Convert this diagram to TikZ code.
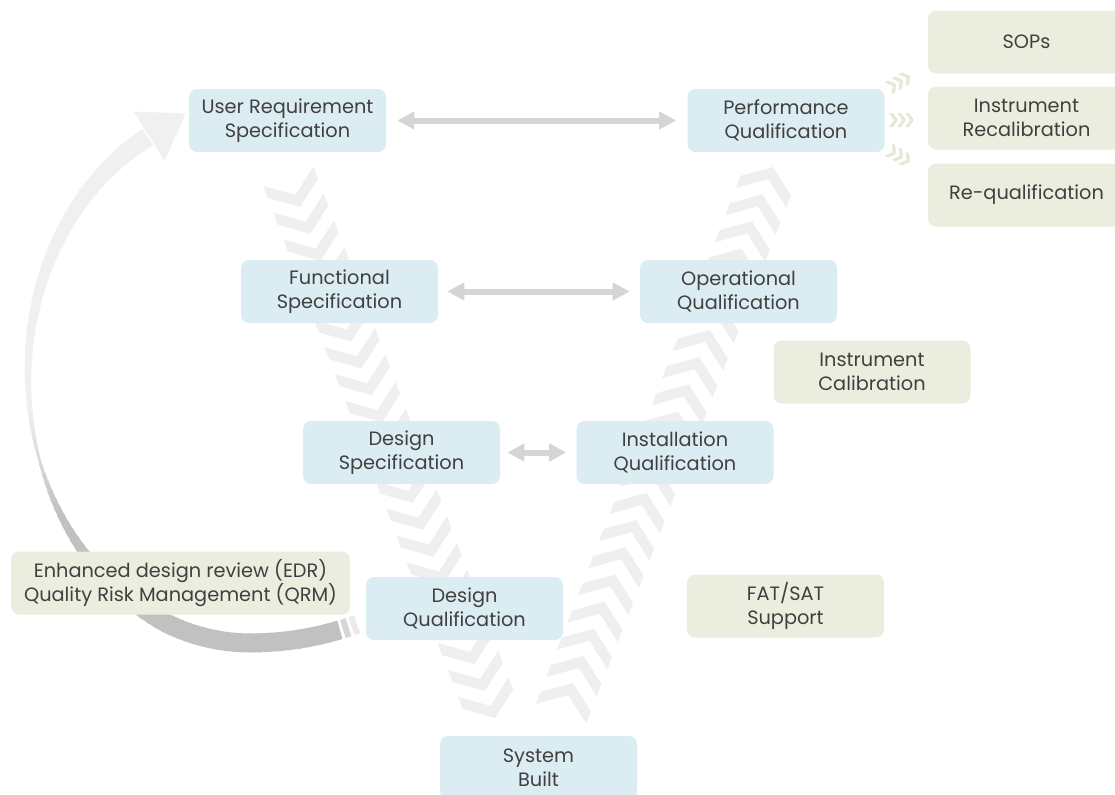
\documentclass[tikz,border=0pt]{standalone}
\usepackage{fontspec}
\setmainfont{Poppins}
\usetikzlibrary{arrows.meta}
\definecolor{bluebox}{RGB}{219,236,242}
\definecolor{greenbox}{RGB}{235,238,223}
\definecolor{txt}{RGB}{64,64,64}
\definecolor{chevcol}{RGB}{239,239,239}
\definecolor{gchev}{RGB}{229,233,214}
\definecolor{arrowcol}{RGB}{213,213,213}
\begin{document}
\begin{tikzpicture}[x=0.75pt,y=-0.75pt,
 box/.style={rounded corners=6pt, minimum width=147.75pt, minimum height=47.25pt, align=center, text=txt, font=\fontsize{14.5}{18}\selectfont, inner sep=0pt},
 bbox/.style={box, fill=bluebox},
 gbox/.style={box, fill=greenbox},
 dbl/.style={arrowcol, line width=4.5pt, {Triangle[length=12.75pt,width=12.75pt]}-{Triangle[length=12.75pt,width=12.75pt]}},
 chevdown/.pic={\fill[chevcol] (-27,-20) -- (0,0) -- (27,-20) -- (27,-33) -- (0,-13) -- (-27,-33) -- cycle;},
 chevup/.pic={\fill[chevcol] (-27,20) -- (0,0) -- (27,20) -- (27,33) -- (0,13) -- (-27,33) -- cycle;},
 schev/.pic={\foreach \dx in {-8,0,8}{\fill[gchev] (\dx-5,-7) -- (\dx,0) -- (\dx-5,7) -- (\dx-9,7) -- (\dx-4,0) -- (\dx-9,-7) -- cycle;}}
]
\useasboundingbox (0,0) rectangle (1115,794);
\clip (0,0) rectangle (1115,794);
% chevron columns
\foreach \i in {0,...,19} \pic[rotate=20.9] at ({300+195*\i/19},{207+511*\i/19}) {chevdown};
\foreach \i in {0,...,19} \pic[rotate=-21.2] at ({573+200*\i/19},{683-516*\i/19}) {chevup};
% curved feedback arrow (flatter on the tail side)
\foreach \t in {72,74,...,240} {
  \pgfmathsetmacro{\w}{\t<110 ? 19 : (\t<160 ? 19-(\t-110)*0.33 : 2.5+(\t-160)*0.21)}
  \pgfmathsetmacro{\k}{\t<148 ? 24.5 : (\t<172 ? 24.5-(\t-148)*0.77 : 6)}
  \pgfmathsetmacro{\aa}{\t<90 ? 291 : 222}
  \pgfmathsetmacro{\ab}{\t+2.6<90 ? 291 : 222}
  \draw[line width=\w*0.75pt, black!\k] ({250+\aa*cos(\t)},{375+268*sin(\t)}) -- ({250+\ab*cos(\t+2.6)},{375+268*sin(\t+2.6)});
}
\draw[line width=14.25pt, black!16] ({250+291*cos(70.2)},{375+268*sin(70.2)}) -- ({250+291*cos(71.4)},{375+268*sin(71.4)});
\draw[line width=14.25pt, black!8] ({250+291*cos(68.4)},{375+268*sin(68.4)}) -- ({250+291*cos(69.6)},{375+268*sin(69.6)});
\fill[black!6] (133.9,111.5) -- (185.8,113.5) -- (164.5,161) -- cycle;
% boxes
\node[bbox] (urs) at (287.5,120.5) {User Requirement\\Specification};
\node[bbox] (pq) at (786,120.5) {Performance\\Qualification};
\node[bbox] (fs) at (339.5,291.5) {Functional\\Specification};
\node[bbox] (oq) at (738.5,291.5) {Operational\\Qualification};
\node[bbox] (ds) at (401.5,452.5) {Design\\Specification};
\node[bbox] (iq) at (675,452.5) {Installation\\Qualification};
\node[bbox] (dq) at (464.5,608.5) {Design\\Qualification};
\node[bbox] (sb) at (538.5,767.5) {System\\Built};
\node[gbox] (sops) at (1026.5,42) {SOPs};
\node[gbox] (recal) at (1026.5,118) {Instrument\\Recalibration};
\node[gbox] (requal) at (1026.5,195) {Re-qualification};
\node[gbox] (ical) at (872,372) {Instrument\\Calibration};
\node[gbox] (fat) at (785.5,606) {FAT/SAT\\Support};
\node[gbox, minimum width=254.25pt] (edr) at (180.5,583) {Enhanced design review (EDR)\\Quality Risk Management (QRM)};
% double arrows
\draw[dbl] ([xshift=8.25pt]urs.east) -- ([xshift=-8.25pt]pq.west);
\draw[dbl] ([xshift=6.75pt]fs.east) -- ([xshift=-7.5pt]oq.west);
\draw[dbl] ([xshift=5.25pt]ds.east) -- ([xshift=-7.5pt]iq.west);
% small chevrons
\pic[rotate=30] at (903,80) {schev};
\pic at (906,120) {schev};
\pic[rotate=-30] at (903,158) {schev};
\end{tikzpicture}
\end{document}
